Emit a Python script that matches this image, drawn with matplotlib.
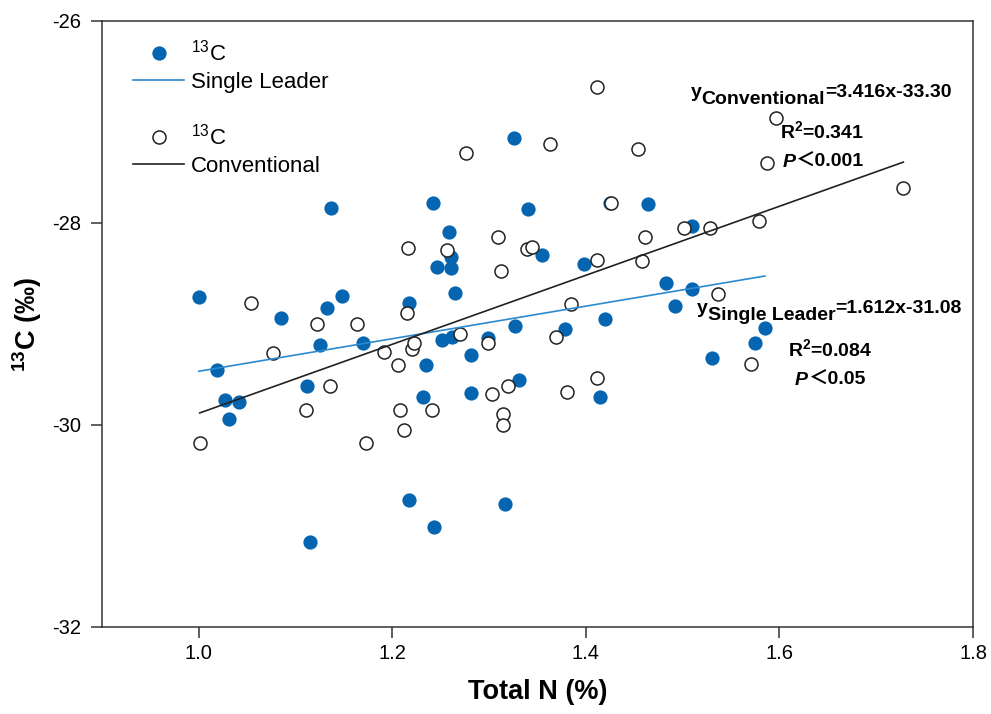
import matplotlib
matplotlib.use("Agg")
import matplotlib.pyplot as plt
from matplotlib.lines import Line2D
import numpy as np

plt.rcParams['font.family'] = ['Liberation Sans', 'DejaVu Sans']
plt.rcParams['mathtext.fontset'] = 'custom'
plt.rcParams['mathtext.rm'] = 'Liberation Sans'
plt.rcParams['mathtext.bf'] = 'Liberation Sans:bold'
plt.rcParams['mathtext.it'] = 'Liberation Sans:italic'
plt.rcParams['axes.unicode_minus'] = False

# Single Leader (filled blue)
sl_n = [1.000, 1.019, 1.027, 1.042, 1.031, 1.085, 1.112, 1.115, 1.125, 1.133,
        1.137, 1.148, 1.170, 1.217, 1.217, 1.232, 1.235, 1.242, 1.243, 1.246,
        1.251, 1.259, 1.261, 1.261, 1.262, 1.265, 1.281, 1.281, 1.299, 1.316,
        1.326, 1.327, 1.331, 1.340, 1.355, 1.378, 1.398, 1.415, 1.420, 1.425,
        1.464, 1.483, 1.492, 1.510, 1.510, 1.530, 1.575, 1.585]
sl_c = [-28.73, -29.46, -29.75, -29.77, -29.94, -28.94, -29.61, -31.16, -29.21, -28.84,
        -27.85, -28.72, -29.19, -28.79, -30.74, -29.72, -29.41, -27.80, -31.01, -28.44,
        -29.16, -28.09, -28.34, -28.45, -29.13, -28.69, -29.31, -29.68, -29.14, -30.78,
        -27.16, -29.02, -29.55, -27.86, -28.32, -29.05, -28.41, -29.72, -28.95, -27.80,
        -27.81, -28.59, -28.82, -28.03, -28.65, -29.34, -29.19, -29.04]

# Conventional (open circles)
cv_n = [1.001, 1.054, 1.077, 1.111, 1.122, 1.136, 1.164, 1.173, 1.191, 1.206,
        1.208, 1.212, 1.215, 1.216, 1.220, 1.222, 1.241, 1.257, 1.270, 1.276,
        1.299, 1.303, 1.309, 1.312, 1.314, 1.314, 1.320, 1.339, 1.344, 1.363,
        1.369, 1.380, 1.385, 1.411, 1.411, 1.411, 1.426, 1.454, 1.458, 1.461,
        1.501, 1.528, 1.536, 1.571, 1.579, 1.587, 1.596, 1.728]
cv_c = [-30.18, -28.79, -29.29, -29.85, -29.00, -29.61, -29.00, -30.18, -29.28, -29.41,
        -29.85, -30.05, -28.89, -28.25, -29.25, -29.19, -29.85, -28.27, -29.10, -27.31,
        -29.19, -29.69, -28.14, -28.48, -29.89, -30.00, -29.61, -28.26, -28.24, -27.22,
        -29.13, -29.67, -28.80, -26.65, -28.37, -29.53, -27.80, -27.27, -28.38, -28.14,
        -28.05, -28.05, -28.70, -29.40, -27.98, -27.41, -26.96, -27.65]

# regression equations as printed on the chart
sl_fit = (1.612, -31.08)
cv_fit = (3.416, -33.30)

blue = '#0565b0'
line_blue = '#2b8ad0'
dark = '#222222'

fig = plt.figure(figsize=(9.91, 7.14), dpi=100)
ax = fig.add_axes([102 / 991, 1 - 627 / 714, 871 / 991, 606 / 714])

ax.scatter(sl_n, sl_c, s=105, color=blue, linewidths=0, zorder=2)
ax.scatter(cv_n, cv_c, s=88, facecolor='white', edgecolor=dark, linewidths=1.1, zorder=3)

xs = np.array([min(sl_n), max(sl_n)])
ax.plot(xs, sl_fit[0] * xs + sl_fit[1], color=line_blue, lw=1.2, zorder=4)
xc = np.array([min(cv_n), max(cv_n)])
ax.plot(xc, cv_fit[0] * xc + cv_fit[1], color=dark, lw=1.2, zorder=4)

ax.set_xlim(0.9, 1.8)
ax.set_ylim(-32, -26)
ax.set_xticks([1.0, 1.2, 1.4, 1.6, 1.8])
ax.set_yticks([-32, -30, -28, -26])
for sp in ax.spines.values():
    sp.set_linewidth(1.1)
    sp.set_color('#333333')
ax.tick_params(axis='both', direction='out', length=8, width=1.1, color='#333333',
               labelsize=14.5)
ax.tick_params(axis='x', pad=4.5)
ax.tick_params(axis='y', pad=7)

ax.set_xlabel('Total N (%)', fontsize=19.5, fontweight='bold', labelpad=11)
ax.set_ylabel(r'$^{\mathbf{13}}$C (‰)', fontsize=19.5, fontweight='bold', labelpad=6)

handles = [
    Line2D([], [], ls='none', marker='o', ms=10.3, mfc=blue, mec=blue, mew=0),
    Line2D([], [], color=line_blue, lw=1.2),
    Line2D([], [], ls='none'),
    Line2D([], [], ls='none', marker='o', ms=9.4, mfc='white', mec=dark, mew=1.1),
    Line2D([], [], color=dark, lw=1.2),
]
labels = [r'$^{13}$C', 'Single Leader', ' ', r'$^{13}$C', 'Conventional']
leg = ax.legend(handles, labels, loc='upper left', bbox_to_anchor=(0.0356, 0.969),
                frameon=False, fontsize=16, handlelength=2.3, handletextpad=0.3,
                labelspacing=0.28, borderpad=0, borderaxespad=0)
leg.get_texts()[2].set_fontsize(11.5)


def rich_text(x, y, pieces):
    prev = None
    for s, dy, kw in pieces:
        if prev is None:
            prev = ax.text(x, y, s, va='baseline', ha='left', **kw)
        else:
            prev = ax.annotate(s, xy=(1, 0), xycoords=prev, xytext=(0, dy),
                               textcoords='offset points', va='bottom', ha='left', **kw)


bold = dict(fontsize=14, fontweight='bold')
bold_cjk = dict(fontsize=14, fontweight='bold', family=['Liberation Sans', 'Noto Sans CJK SC'])
bold_it = dict(fontsize=14, fontweight='bold', fontstyle='italic')

rich_text(1.508, -26.752, [('y', 0, bold), ('Conventional', -5, bold), ('=3.416x-33.30', 5, bold)])
ax.text(1.601, -27.158, r'R$^{\mathbf{2}}$=0.341', va='baseline', ha='left', **bold)
rich_text(1.603, -27.446, [('P', 0, bold_it), ('＜0.001', 0, bold_cjk)])

rich_text(1.515, -28.891, [('y', 0, bold), ('Single Leader', -5, bold), ('=1.612x-31.08', 5, bold)])
ax.text(1.609, -29.317, r'R$^{\mathbf{2}}$=0.084', va='baseline', ha='left', **bold)
rich_text(1.616, -29.604, [('P', 0, bold_it), ('＜0.05', 0, bold_cjk)])

fig.savefig('out.png', dpi=100)
